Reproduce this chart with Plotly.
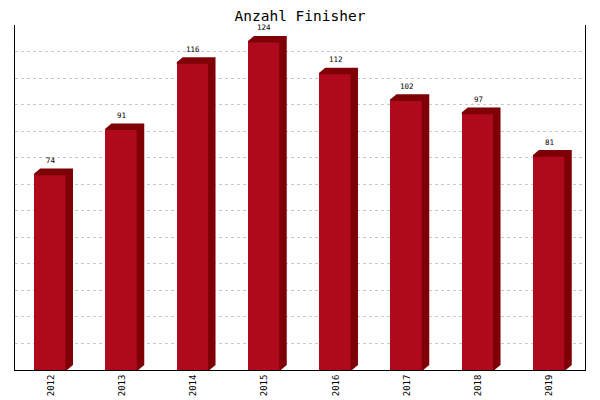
import plotly.graph_objects as go

years = ["2012", "2013", "2014", "2015", "2016", "2017", "2018", "2019"]
finishers = [74, 91, 116, 124, 112, 102, 97, 81]

FRONT = "#AE0A1C"
DARK = "#7E0006"

# page body has an 8px margin, so the figure is sized to the visible area
W, H = 592, 392
ML, MR, MT, MB = 7, 15, 17, 30
YMAX = 130
n = len(years)
bw = 0.46
px_x = (W - ML - MR) / n
px_y = (H - MT - MB) / YMAX
dx = 6 / px_x
dy = 5 / px_y
ov = 1.5 / px_x

fig = go.Figure()
xs = list(range(n))

# darker top + side faces (3D effect)
for i, v in enumerate(finishers):
    l, r = i - bw / 2, i + bw / 2
    fig.add_trace(go.Scatter(
        x=[l, l + dx, r + dx, r + dx, r, r - ov, r - ov, l],
        y=[v, v + dy, v + dy, dy, 0, 0, v - 0.6, v - 0.6],
        fill="toself", fillcolor=DARK, mode="lines",
        line=dict(width=0, color=DARK), hoverinfo="skip", showlegend=False,
    ))

fig.add_trace(go.Bar(
    x=xs, y=finishers, width=bw, marker=dict(color=FRONT, line=dict(width=0)),
    showlegend=False, hoverinfo="skip",
))

for i, v in enumerate(finishers):
    fig.add_annotation(x=i, y=v, text=str(v), showarrow=False, yshift=13,
                       font=dict(family="DejaVu Sans Mono", size=7.5, color="black"))

fig.update_layout(
    width=W, height=H,
    margin=dict(l=ML, r=MR, t=MT, b=MB, autoexpand=False),
    plot_bgcolor="white", paper_bgcolor="white",
    title=dict(text="Anzahl Finisher", x=(ML + (W - ML - MR) / 2) / W, xanchor="center",
               y=1 - 8 / H, yanchor="middle", automargin=False,
               font=dict(family="DejaVu Sans Mono", size=14.5, color="black")),
    xaxis=dict(range=[-0.5, n - 0.5], tickvals=xs, ticktext=years, tickangle=-90,
               automargin=False,
               showgrid=False, zeroline=False, showline=True, linecolor="black", linewidth=1,
               ticks="", tickfont=dict(family="DejaVu Sans Mono", size=9, color="black")),
    yaxis=dict(range=[0, YMAX], dtick=10, showticklabels=False, ticks="", automargin=False,
               showgrid=True, gridcolor="#c8c8c8", griddash="3px,3px", gridwidth=1,
               zeroline=False, showline=True, mirror=True, linecolor="black", linewidth=1),
    bargap=0,
)

fig.write_html("out.html")
